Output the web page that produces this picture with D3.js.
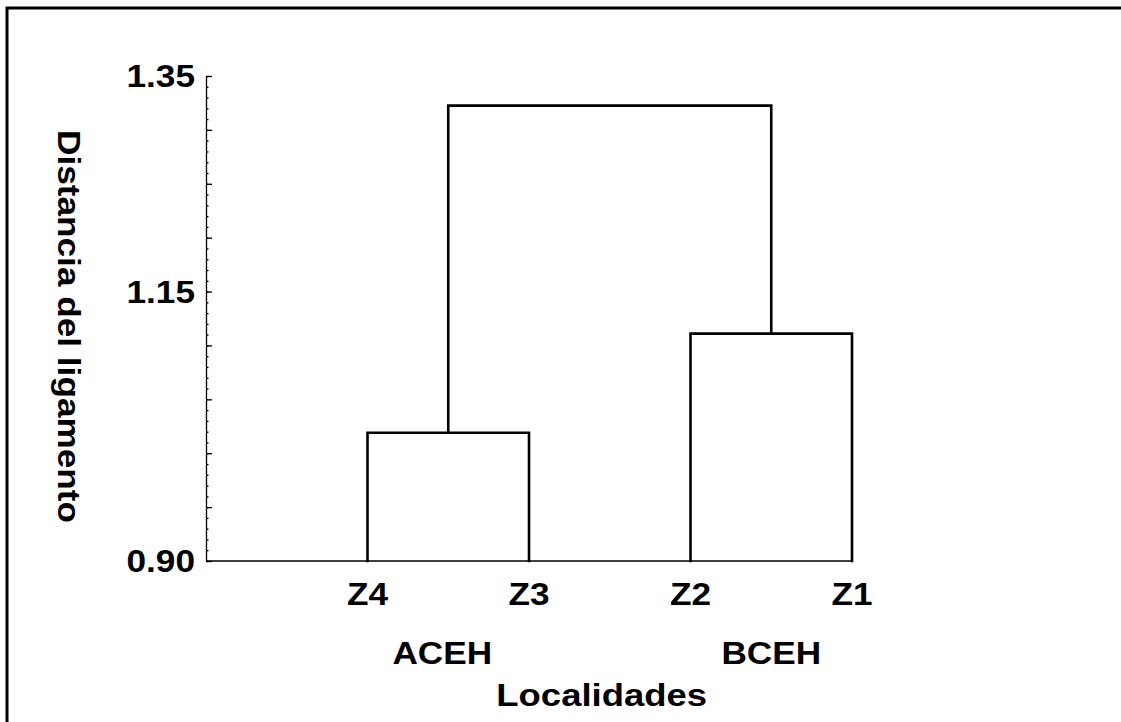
<!DOCTYPE html>
<html><head><meta charset="utf-8">
<script src="https://cdn.jsdelivr.net/npm/d3@7"></script>
<style>
html,body{margin:0;padding:0;background:#fff;overflow:hidden;}
svg{display:block;}
text{font-family:"Liberation Sans",Arial,sans-serif;font-weight:bold;fill:#000;}
</style></head>
<body>
<svg id="chart" width="1121" height="722"></svg>
<script>
// ---- data ----
const leaves = ["Z4", "Z3", "Z2", "Z1"];
const groupLabels = ["ACEH", "BCEH"];
const groupMembers = [["Z4", "Z3"], ["Z2", "Z1"]];
const mergeHeights = [1.019, 1.111, 1.3225]; // Z4-Z3, Z2-Z1, top
const yTickLabels = [0.90, 1.15, 1.35];
const yDomain = [0.90, 1.35];
const yTitle = "Distancia del ligamento";
const xTitle = "Localidades";

const svg = d3.select("#chart");
const x = d3.scaleLinear().domain([0, leaves.length]).range([206, 852]);
const y = d3.scaleLinear().domain(yDomain).range([561, 76]);
const lx = name => x(leaves.indexOf(name) + 1);
const SX = 1.1, FS = 32;

// frame (top and left edges only visible)
svg.append("path").attr("d", "M7,730V8H1130")
  .attr("fill", "none").attr("stroke", "#000").attr("stroke-width", 3);

// y axis: minor ticks (0.01) and medium ticks (0.05)
const minor = d3.range(90, 136, 1).map(v => v / 100);
const medium = d3.range(90, 136, 5).map(v => v / 100);
const axG = svg.append("g").attr("transform", `translate(${x(0)},0)`);
axG.call(d3.axisRight(y).tickValues(minor).tickSize(2.5).tickSizeOuter(0).tickFormat(""));
axG.append("g").call(d3.axisRight(y).tickValues(medium).tickSize(6).tickSizeOuter(0).tickFormat(""))
  .select(".domain").remove();
axG.selectAll("path,line").attr("stroke", "#000").attr("stroke-width", 1.3);

// y tick labels
yTickLabels.forEach(v => {
  svg.append("text")
    .attr("transform", `translate(${x(0) - 11},${y(v) + 11}) scale(${SX},1)`)
    .attr("text-anchor", "end").attr("font-size", FS).text(d3.format(".2f")(v));
});

// baseline
svg.append("line").attr("x1", x(0)).attr("x2", lx("Z1")).attr("y1", y(yDomain[0])).attr("y2", y(yDomain[0]))
  .attr("stroke", "#000").attr("stroke-width", 1.3);

// dendrogram links
const g = svg.append("g").attr("fill", "none").attr("stroke", "#000").attr("stroke-width", 2.6)
  .attr("stroke-linejoin", "miter").attr("stroke-linecap", "square");
const base = yDomain[0];
const clusterX = [];
groupMembers.forEach((pair, i) => {
  const xa = lx(pair[0]), xb = lx(pair[1]), h = mergeHeights[i];
  g.append("path").attr("d", `M${xa},${y(base)}V${y(h)}H${xb}V${y(base)}`);
  clusterX.push((xa + xb) / 2);
});
g.append("path").attr("d",
  `M${clusterX[0]},${y(mergeHeights[0])}V${y(mergeHeights[2])}H${clusterX[1]}V${y(mergeHeights[1])}`);

// leaf labels
leaves.forEach(name => {
  svg.append("text").attr("transform", `translate(${lx(name)},605) scale(${SX},1)`)
    .attr("text-anchor", "middle").attr("font-size", FS).text(name);
});
// group labels
groupLabels.forEach((name, i) => {
  svg.append("text").attr("transform", `translate(${clusterX[i] - (i === 0 ? 6 : 0)},664) scale(${SX},1)`)
    .attr("text-anchor", "middle").attr("font-size", FS).text(name);
});
// axis titles
svg.append("text").attr("transform", `translate(${x(2.45)},706) scale(${SX + 0.04},1)`)
  .attr("text-anchor", "middle").attr("font-size", FS).text(xTitle);
svg.append("text").attr("transform", `translate(58,${(y(yDomain[0]) + y(yDomain[1])) / 2 + 8}) rotate(90) scale(${SX},1)`)
  .attr("text-anchor", "middle").attr("font-size", FS).text(yTitle);
</script>
</body></html>
